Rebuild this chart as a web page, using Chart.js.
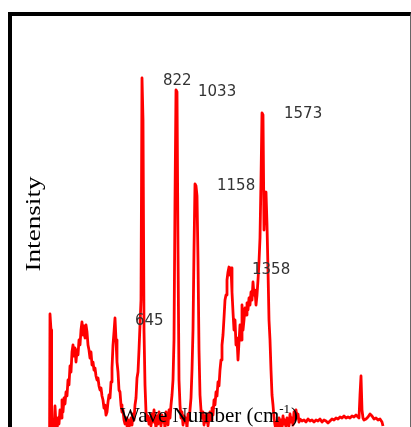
<!DOCTYPE html>
<html>
<head>
<meta charset="utf-8">
<script src="https://cdn.jsdelivr.net/npm/chart.js@4/dist/chart.umd.min.js"></script>
<style>
html,body{margin:0;padding:0;background:#fff;overflow:hidden;width:411px;height:427px;}
#wrap{position:relative;width:411px;height:440px;}
#c{position:absolute;left:0;top:0;}
#frame{position:absolute;left:8px;top:12px;width:403px;height:500px;box-sizing:border-box;border-left:4px solid #000;border-top:4px solid #000;border-right:1px solid #666;pointer-events:none;}
</style>
</head>
<body>
<div id="wrap">
<canvas id="c" width="411" height="440"></canvas>
<div id="frame"></div>
</div>
<script>
// Raman spectrum, wave number (cm-1) vs intensity (a.u.)
const waveNumbers = [
288,290,295,298,300,305,310,315,320,325,330,335,340,345,350,355,360,365,370,375,
380,385,390,395,400,405,410,415,420,425,430,435,440,445,450,455,460,465,470,475,
480,485,490,495,500,505,510,515,520,525,530,535,540,545,550,555,560,565,570,575,
580,585,590,595,600,605,610,615,620,625,630,635,640,645,650,655,660,665,670,675,
680,685,690,695,700,705,710,715,720,725,730,735,740,745,750,755,760,765,770,775,
780,785,790,795,800,805,810,815,820,825,830,835,840,845,850,855,860,865,870,875,
880,885,890,895,900,905,910,915,920,925,930,935,940,945,950,955,960,965,970,975,
980,985,990,995,1000,1005,1010,1015,1020,1025,1030,1035,1040,1045,1050,1055,1060,1065,1070,1075,
1080,1085,1090,1095,1100,1105,1110,1115,1120,1125,1130,1135,1140,1145,1150,1155,1160,1165,1170,1175,
1180,1185,1190,1195,1200,1205,1210,1215,1220,1225,1230,1235,1240,1245,1250,1255,1260,1265,1270,1275,
1280,1285,1290,1295,1300,1305,1310,1315,1320,1325,1330,1335,1340,1345,1350,1355,1360,1365,1370,1375,
1380,1385,1390,1395,1400,1405,1410,1415,1420,1425,1430,1435,1440,1445,1450,1455,1460,1465,1470,1475,
1480,1485,1490,1495,1500,1505,1510,1515,1520,1525,1530,1535,1540,1550,1560,1570,1580,1590,1600,1610,
1620,1630,1640,1650,1660,1670,1680,1690,1700,1710,1720,1730,1740,1750,1760,1770,1780,1790,1800,1810,
1820,1830,1835,1840,1845,1850,1855,1860,1870,1880,1890,1900,1910,1920,1930,1940,1950,1955
];
const intensity = [
10,126,110,13,8,20,12,34,15,10,22,16,30,22,40,28,42,36,48,44,
60,55,74,68,88,95,84,92,78,90,85,100,95,110,118,105,114,102,115,108,
95,90,82,88,75,78,70,72,64,60,62,54,50,52,44,40,32,35,25,28,
38,45,42,58,72,95,108,122,100,78,68,50,48,35,28,30,20,16,22,14,
20,12,18,22,15,26,20,35,42,62,68,90,115,140,362,320,110,55,28,20,
24,16,22,14,26,18,30,20,12,24,16,28,20,14,25,18,22,12,28,20,
15,30,22,35,45,60,100,240,350,348,190,60,35,22,28,15,24,18,22,12,
26,20,30,42,70,110,190,256,254,244,180,90,45,30,22,28,15,24,18,26,
14,22,28,20,32,25,40,35,48,44,58,54,70,80,95,105,122,140,145,160,
168,173,165,172,148,128,110,120,95,102,80,98,115,100,135,110,120,132,125,137,
130,142,135,148,140,158,145,150,135,145,160,178,202,260,327,325,210,245,248,215,
170,120,100,70,45,35,22,15,10,18,12,22,14,20,12,24,16,20,13,22,
17,14,26,18,22,15,28,20,30,22,26,18,21,19,20,18,21,19,20,18,
20,19,21,18,20,19,17,19,21,20,22,21,23,22,24,22,23,22,24,23,
25,23,22,45,64,30,22,20,21,23,26,24,21,22,20,21,18,14
];
// peak annotations: text and anchor (wave number, intensity)
const peakLabels = ['645','822','1033','1158','1358','1573'];
const peakLabelX = [715, 855, 1030, 1125, 1300, 1460];
const peakLabelY = [119, 359, 348, 254, 170, 326];
const yTitle = 'Intensity';
const xTitle = 'Wave Number (cm';
const xTitleSup = '-1';
const xTitleEnd = ')';

const points = waveNumbers.map((w, i) => ({x: w, y: intensity[i]}));

const textPlugin = {
  id: 'texts',
  afterDraw(chart) {
    const ctx = chart.ctx;
    const xs = chart.scales.x, ys = chart.scales.y;
    ctx.save();
    // peak labels
    ctx.font = '15px "DejaVu Sans"';
    ctx.fillStyle = '#333';
    ctx.textBaseline = 'middle';
    ctx.textAlign = 'left';
    peakLabels.forEach((t, i) => {
      ctx.fillText(t, xs.getPixelForValue(peakLabelX[i]), ys.getPixelForValue(peakLabelY[i]));
    });
    // y title (rotated)
    ctx.save();
    ctx.font = '21px "Liberation Serif"';
    ctx.fillStyle = '#000';
    ctx.textAlign = 'center';
    ctx.textBaseline = 'middle';
    const w = ctx.measureText(yTitle).width;
    ctx.translate(34, 224);
    ctx.rotate(-Math.PI / 2);
    ctx.scale(95 / w, 1);
    ctx.fillText(yTitle, 0, 0);
    ctx.restore();
    // x title with superscript
    ctx.fillStyle = '#000';
    ctx.textAlign = 'left';
    ctx.textBaseline = 'alphabetic';
    ctx.font = '21px "Liberation Serif"';
    let x0 = 120;
    const base = 422;
    ctx.fillText(xTitle, x0, base);
    x0 += ctx.measureText(xTitle).width;
    ctx.font = '13px "Liberation Serif"';
    ctx.fillText(xTitleSup, x0, base - 9);
    x0 += ctx.measureText(xTitleSup).width + 1;
    ctx.font = '21px "Liberation Serif"';
    ctx.fillText(xTitleEnd, x0, base);
    ctx.restore();
  }
};

new Chart(document.getElementById('c'), {
  type: 'line',
  data: {
    datasets: [{
      data: points,
      borderColor: '#ff0000',
      borderWidth: 2.8,
      pointRadius: 0,
      tension: 0,
      fill: false,
      borderJoinStyle: 'round'
    }]
  },
  options: {
    responsive: false,
    animation: false,
    devicePixelRatio: 1,
    layout: {padding: {left: 12, right: 1, top: 16, bottom: 0}},
    plugins: {legend: {display: false}, tooltip: {enabled: false}, title: {display: false}},
    scales: {
      x: {type: 'linear', min: 100, max: 2090, display: false},
      y: {min: 0, max: 424, display: false}
    }
  },
  plugins: [textPlugin]
});
</script>
</body>
</html>
